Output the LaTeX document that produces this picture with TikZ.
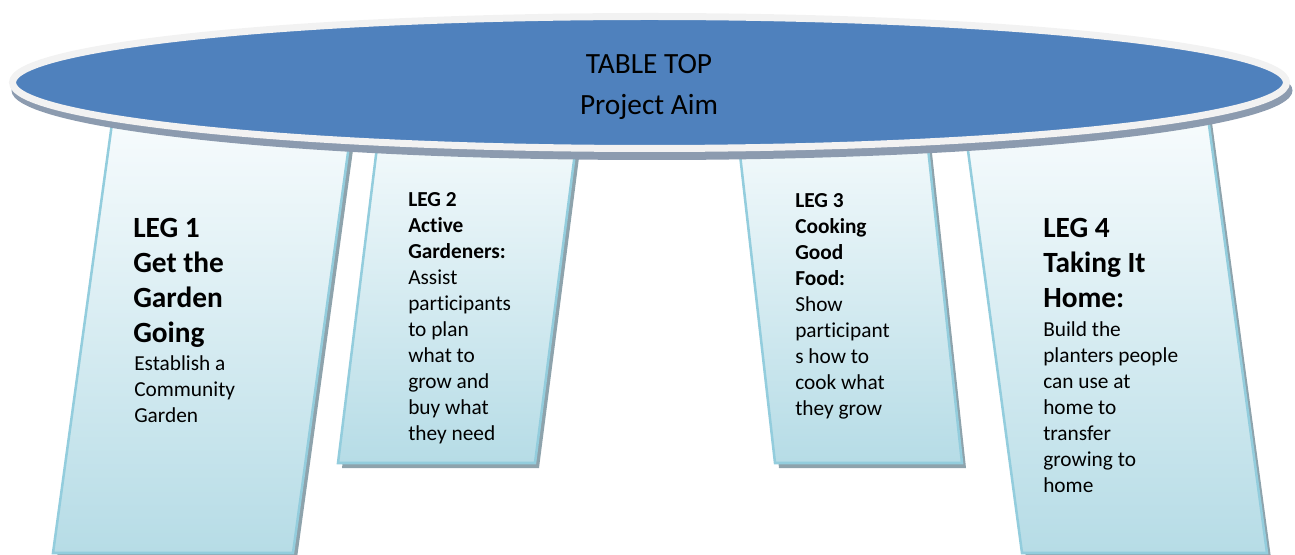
\documentclass[tikz,border=0pt]{standalone}
\usepackage{fontspec}
\setmainfont{Carlito}[Ligatures=NoCommon]
\usetikzlibrary{positioning}
\definecolor{aimblue}{HTML}{4F81BD}
\definecolor{rimgray}{HTML}{F2F2F2}
\definecolor{topshade}{HTML}{8C9BAF}
\definecolor{legline}{HTML}{93CDDD}
\definecolor{legtop}{HTML}{FAFDFE}
\definecolor{legbot}{HTML}{B6DCE6}
\definecolor{legshade}{HTML}{8EA3AC}

\begin{document}
\begin{tikzpicture}[
    x=0.75pt, y=-0.75pt,
    leg/.style={draw=legline, line width=1.9pt, top color=legtop, bottom color=legbot},
    head/.style={anchor=north west, inner sep=0pt, align=left, font=\fontsize{22}{26.25}\selectfont\bfseries},
    txt/.style={anchor=north west, inner sep=0pt, align=left, font=\fontsize{16}{19.5}\selectfont},
    aim/.style={anchor=north, inner sep=0pt, align=center, font=\fontsize{22}{30.4}\selectfont}
]
\useasboundingbox (0,0) rectangle (1295,555);

% legs: top left / top right / bottom right / bottom left / bottom y
\foreach \tl/\tr/\br/\bl/\bot in {115.2/355.2/293/53/553, 382.8/581.8/535/338/463,
    733.8/922.8/962/775/463, 961.2/1205.6/1267/1022/553}{
  \fill[legshade] (\tl+4,105) -- (\tr+4,105) -- (\br+4,\bot+5) -- (\bl+4,\bot+5) -- cycle;
  \path[leg] (\tl,100) -- (\tr,100) -- (\br,\bot) -- (\bl,\bot) -- cycle;
}

% table top
\fill[topshade] (652,90.5) ellipse [x radius=640.5, y radius=69.5];
\draw[rimgray, line width=5.25pt, fill=aimblue] (649.5,82.5) ellipse [x radius=637, y radius=66];
\node[aim] (aim) at (649,54.5) {TABLE TOP\\Project Aim};

\node[head] (h1) at (133,218) {LEG 1\\Get the\\Garden\\Going};
\node[txt] (b1) at (134,355) {Establish a\\Community\\Garden};

% \kern0pt keeps t and i apart
\node[txt] (t2) at (408,192) {\textbf{LEG 2}\\\textbf{Act\kern0pt ive}\\\textbf{Gardeners:}\\Assist\\part\kern0pt icipants\\to plan\\what to\\grow and\\buy what\\they need};

\node[txt] (t3) at (795,193) {\textbf{LEG 3}\\\textbf{Cooking}\\\textbf{Good}\\\textbf{Food:}\\Show\\part\kern0pt icipant\\s how to\\cook what\\they grow};

\node[head] (h4) at (1043,218) {LEG 4\\Taking It\\Home:};
\node[txt] (b4) at (1043,321) {Build the\\planters people\\can use at\\home to\\transfer\\growing to\\home};

\end{tikzpicture}
\end{document}
